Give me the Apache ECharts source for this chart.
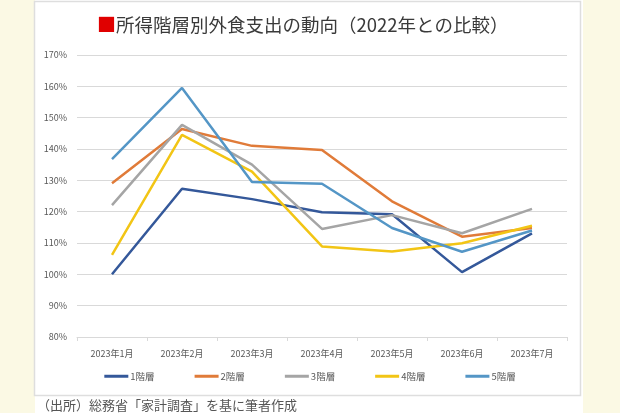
<!DOCTYPE html>
<html><head><meta charset="utf-8">
<script src="https://cdn.jsdelivr.net/npm/echarts@6/dist/echarts.min.js"></script>
<style>html,body{margin:0;padding:0;background:#fff}#c{width:620px;height:413px}</style>
</head><body><div id="c"></div>
<script>
const categories = ['2023年1月','2023年2月','2023年3月','2023年4月','2023年5月','2023年6月','2023年7月'];
const yTicks = [80,90,100,110,120,130,140,150,160,170];
const seriesNames = ['1階層','2階層','3階層','4階層','5階層'];
const tier1 = [100.0,127.3,124.0,119.8,119.2,100.7,113.1];
const tier2 = [129.1,146.4,141.0,139.7,123.3,112.0,114.8];
const tier3 = [122.1,147.7,135.0,114.5,118.9,113.1,120.9];
const tier4 = [106.2,144.5,132.8,108.9,107.3,109.9,115.5];
const tier5 = [136.8,159.5,129.5,128.9,114.8,107.2,114.0];
const colors = ['#34589a','#e07b39','#a5a5a5','#f2c515','#5496c6'];
const titleText = '所得階層別外食支出の動向（2022年との比較）';
const sourceText = '（出所）総務省「家計調査」を基に筆者作成';

const chart = echarts.init(document.getElementById('c'), null, {renderer:'canvas'});
const font = '"Noto Sans CJK JP","Noto Sans",sans-serif';
chart.setOption({
  animation:false,
  textStyle:{fontFamily:font},
  graphic:[
    {type:'rect',z:-10,shape:{x:0,y:0,width:35,height:413},style:{fill:'#fbf9e4'}},
    {type:'rect',z:-10,shape:{x:583,y:0,width:37,height:413},style:{fill:'#fbf9e4'}},
    {type:'rect',z:-9,shape:{x:34.5,y:1.5,width:546,height:394},style:{fill:'#fff',stroke:'#dedede',lineWidth:1.5}},
    {type:'text',left:37,top:399,style:{text:sourceText,fill:'#555',font:'13px '+font}}
  ],
  title:{
    text:'{r|■}{t|'+titleText+'}',
    left:92, top:10,
    textStyle:{rich:{
      r:{color:'#e00000',fontSize:19,fontWeight:'normal',fontFamily:font},
      t:{color:'#3a3a3a',fontSize:18.5,fontWeight:'normal',fontFamily:font}
    }}
  },
  legend:{
    bottom:27, left:'center', itemWidth:24, itemHeight:3, itemGap:40,
    icon:'rect',
    textStyle:{color:'#595959',fontSize:9.5,padding:[0,0,0,-3]},
    data:seriesNames
  },
  grid:{left:77,right:53,top:55,bottom:76},
  xAxis:{
    type:'category', data:categories, boundaryGap:true,
    axisLine:{lineStyle:{color:'#d9d9d9',width:1}},
    axisTick:{show:true,length:4,lineStyle:{color:'#d9d9d9'}},
    axisLabel:{color:'#595959',fontSize:9,margin:12}
  },
  yAxis:{
    type:'value', min:80, max:170, interval:10,
    axisLine:{show:false}, axisTick:{show:false},
    axisLabel:{color:'#595959',fontSize:9,margin:10,formatter:v=>v+'%'},
    splitLine:{lineStyle:{color:'#d9d9d9',width:1}}
  },
  series:[tier1,tier2,tier3,tier4,tier5].map((d,i)=>({
    name:seriesNames[i], type:'line', data:d, showSymbol:false, symbol:'none',
    lineStyle:{width:2.5,color:colors[i]}, itemStyle:{color:colors[i]}
  }))
});
</script></body></html>
